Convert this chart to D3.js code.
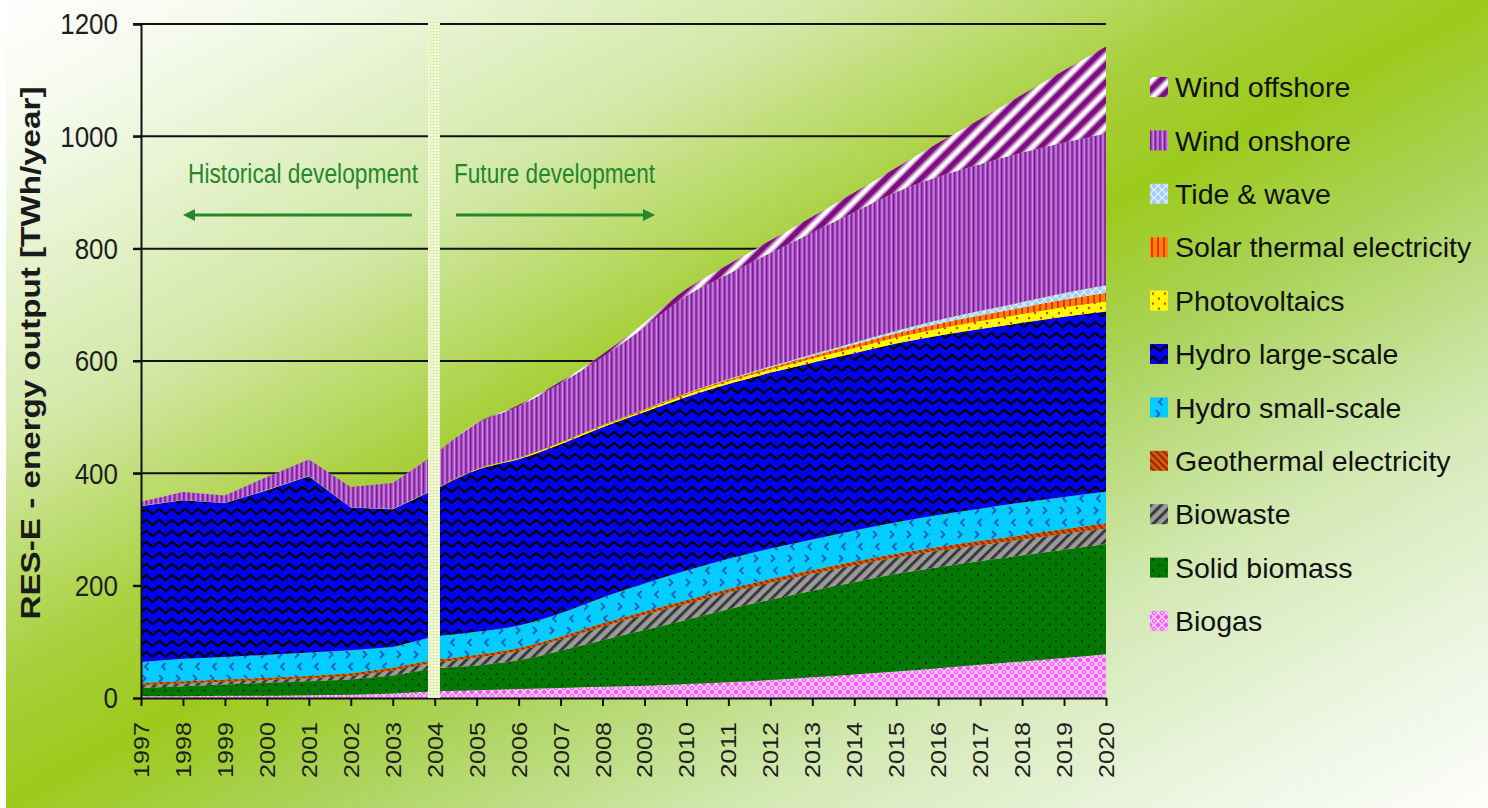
<!DOCTYPE html>
<html><head><meta charset="utf-8">
<script src="https://cdn.jsdelivr.net/npm/d3@7"></script>
<style>html,body{margin:0;padding:0;background:#fff;} svg{display:block;} text{font-family:"Liberation Sans",Arial,sans-serif;}</style>
</head><body>
<svg id="chart" width="1488" height="808"></svg>
<script>
// ---- data (TWh/year) ----
const years = d3.range(1997, 2021);
const biogas        = [3,3,4,4,5,6,8,12,14,16,18,20,22,25,28,32,37,42,47,53,59,65,71,78];
const solidBiomass  = [15,18,20,23,25,27,32,41,44,51,66,83,99,114,130,143,154,164,174,180,185,189,193,196];
const biowaste      = [5,5,5,5,5,6,9,10,14,17,20,24,27,29,30,30,30,30,29,29,28,28,28,28];
const geothermal    = [4,4,4,4,4,5,5,5,5,5,5,6,6,6,6,7,7,7,7,7,8,8,9,9];
const hydroSmall    = [37,40,40,41,42,41,37,42,41,40,42,46,50,53,54,54,54,55,56,57,57,58,57,56];
const hydroLarge    = [278,282,274,293,314,254,245,261,288,296,301,303,305,309,311,313,315,316,318,319,320,320,321,321];
const photovoltaics = [0.1,0.1,0.1,0.1,0.2,0.3,0.4,0.5,1,1.5,2,2.5,3,4,5,6,7.5,9,11,12.5,14,15.5,17,18];
const solarThermal  = [0,0,0,0,0,0,0,0,0.2,0.5,0.8,1,1.5,2,2.5,3.5,4.5,6,7,8.5,10,11.5,13,15];
const tideWave      = [0.5,0.5,0.5,0.5,0.5,0.5,0.5,0.5,0.5,0.5,0.5,0.6,0.8,1,1.5,2,3,4,5,7,8.5,10,12,14];
const windOnshore   = [7,14,13,23,29,36,46,61,81,92,105,121,146,173,187,202,217,232,247,255,261,266,268,270];
const windOffshore  = [0,0,0,0,0,0,0,0.5,1,2,3,5,8,12,17,22,28,35,43,60,80,103,128,155];

const seriesKeys  = ["biogas","solidBiomass","biowaste","geothermal","hydroSmall","hydroLarge","photovoltaics","solarThermal","tideWave","windOnshore","windOffshore"];
const seriesNames = ["Biogas","Solid biomass","Biowaste","Geothermal electricity","Hydro small-scale","Hydro large-scale","Photovoltaics","Solar thermal electricity","Tide & wave","Wind onshore","Wind offshore"];
const yTicks = [0,200,400,600,800,1000,1200];
const historicalEnd = 2004;
const yTitle = "RES-E - energy output [TWh/year]";
const histLabel = "Historical development";
const futLabel = "Future development";

const seriesData = {biogas, solidBiomass, biowaste, geothermal, hydroSmall, hydroLarge, photovoltaics, solarThermal, tideWave, windOnshore, windOffshore};
const table = years.map((yr,i) => { const o = {year: yr}; seriesKeys.forEach(k => o[k] = seriesData[k][i]); return o; });

// ---- layout ----
const svg = d3.select("#chart");
const x = d3.scaleLinear().domain([1997, 2020]).range([141, 1106]);
const y = d3.scaleLinear().domain([0, 1200]).range([698, 24]);

const defs = svg.append("defs");
// background gradient
const bg = defs.append("linearGradient").attr("id","bg").attr("x1",0).attr("y1",0).attr("x2",1).attr("y2",1);
[[0,"#ffffff"],[0.1,"#f3f9e8"],[0.28,"#d2e8a6"],[0.42,"#a8d03c"],[0.5,"#9cca1c"],[0.6,"#abd35a"],[0.75,"#d3e9b4"],[0.9,"#eef6e4"],[1,"#fdfefb"]]
  .forEach(([o,c]) => bg.append("stop").attr("offset",o).attr("stop-color",c));

function pat(id, w, h, bgc, tr) {
  const p = defs.append("pattern").attr("id",id).attr("patternUnits","userSpaceOnUse").attr("width",w).attr("height",h);
  if (tr) p.attr("patternTransform", tr);
  p.append("rect").attr("width",w).attr("height",h).attr("fill",bgc);
  return p;
}
// wind offshore: white with purple diagonal stripes
let p = pat("p_windOffshore", 12.5, 10, "#ffffff", "rotate(45)");
p.append("rect").attr("x",0).attr("width",5.5).attr("height",10).attr("fill","#7d0e80");
p.append("rect").attr("x",5.5).attr("width",1.6).attr("height",10).attr("fill","#c488cc");
p.append("rect").attr("x",10.9).attr("width",1.6).attr("height",10).attr("fill","#c488cc");
// wind onshore: purple vertical stripes
p = pat("p_windOnshore", 4.7, 10, "#a447c3");
p.append("rect").attr("x",0).attr("width",1.2).attr("height",10).attr("fill","#7c168f");
p.append("rect").attr("x",2.6).attr("width",0.9).attr("height",10).attr("fill","#dcb2ea");
// tide & wave
p = pat("p_tideWave", 8, 8, "#a4cbf6");
p.append("path").attr("d","M0,0L8,8M8,0L0,8").attr("stroke","#e8f2ff").attr("stroke-width",1.2);
// solar thermal
p = pat("p_solarThermal", 6, 6, "#ff8400");
p.append("rect").attr("x",1).attr("width",2).attr("height",6).attr("fill","#ff2a00");
// photovoltaics
p = pat("p_photovoltaics", 12, 10, "#ffff00");
p.append("circle").attr("cx",3).attr("cy",3).attr("r",1.2).attr("fill","#ff3000");
p.append("circle").attr("cx",9).attr("cy",8).attr("r",1.2).attr("fill","#ff3000");
// hydro large: blue with black zigzags
p = pat("p_hydroLarge", 13, 11, "#0000f2");
p.append("path").attr("d","M-3.25,8L3.25,2.8L9.75,8L16.25,2.8").attr("stroke","#000").attr("stroke-width",2.2).attr("fill","none");
// hydro small: cyan with chevrons
p = pat("p_hydroSmall", 17, 24, "#00ccff");
p.append("path").attr("d","M6,3L9.5,6.5L6,10").attr("stroke","#1f5fbf").attr("stroke-width",1.9).attr("fill","none");
p.append("path").attr("d","M12.5,15L9,18.5L12.5,22").attr("stroke","#1f5fbf").attr("stroke-width",1.9).attr("fill","none");
// geothermal
p = pat("p_geothermal", 5, 5, "#d85a08", "rotate(-45)");
p.append("rect").attr("x",0).attr("width",2).attr("height",5).attr("fill","#8e2c00");
// biowaste: grey with dark diagonal stripes
p = pat("p_biowaste", 7.5, 10, "#9a9a9a", "rotate(45)");
p.append("rect").attr("x",0).attr("width",3).attr("height",10).attr("fill","#3a3a3a");
// solid biomass: green with black dots
p = pat("p_solidBiomass", 13, 11, "#017801");
p.append("circle").attr("cx",3).attr("cy",3).attr("r",1).attr("fill","#002200");
p.append("circle").attr("cx",9.5).attr("cy",8.5).attr("r",1).attr("fill","#002200");
// biogas: magenta lattice
p = pat("p_biogas", 8, 8, "#ff55ff");
p.append("path").attr("d","M0,0L8,8M8,0L0,8").attr("stroke","#ffd8ff").attr("stroke-width",1.5);
p.append("circle").attr("cx",4).attr("cy",0).attr("r",0.9).attr("fill","#fff");
p.append("circle").attr("cx",4).attr("cy",8).attr("r",0.9).attr("fill","#fff");
// divider band
p = pat("p_divider", 3, 3, "#eef7cf");
p.append("rect").attr("x",1).attr("y",1).attr("width",1).attr("height",1).attr("fill","#c3df86");

// background
svg.append("rect").attr("width",1488).attr("height",808).attr("fill","url(#bg)");
svg.append("rect").attr("width",6).attr("height",808).attr("fill","#ffffff");

// gridlines
svg.append("g").selectAll("line").data(yTicks.filter(v => v > 0)).join("line")
  .attr("x1", 133).attr("x2", x(2020)).attr("y1", d => y(d)).attr("y2", d => y(d))
  .attr("stroke","#111").attr("stroke-width",2);

// stacked areas
const stack = d3.stack().keys(seriesKeys);
const stacked = stack(table);
const areaHist = d3.area().x(d => x(d.data.year)).y0(d => y(d[0])).y1(d => y(d[1])).curve(d3.curveLinear);
const areaFut = d3.area().x(d => x(d.data.year)).y0(d => y(d[0])).y1(d => y(d[1])).curve(d3.curveMonotoneX);
const gA = svg.append("g");
stacked.forEach(s => {
  gA.append("path").attr("d", areaHist(s.filter(d => d.data.year <= historicalEnd))).attr("fill", `url(#p_${s.key})`);
  gA.append("path").attr("d", areaFut(s.filter(d => d.data.year >= historicalEnd))).attr("fill", `url(#p_${s.key})`);
});

// axes
const yAxis = svg.append("g").attr("transform","translate(141,0)")
  .call(d3.axisLeft(y).tickValues(yTicks).tickSize(8).tickFormat(""));
yAxis.select(".domain").attr("stroke","#111").attr("stroke-width",2);
yAxis.selectAll(".tick line").attr("stroke","#111").attr("stroke-width",2);
const xAxis = svg.append("g").attr("transform","translate(0,698)")
  .call(d3.axisBottom(x).tickValues(years).tickSize(8).tickSizeOuter(0).tickFormat(""));
xAxis.select(".domain").attr("stroke","#111").attr("stroke-width",2);
xAxis.selectAll(".tick line").attr("stroke","#111").attr("stroke-width",2);

// divider band
svg.append("rect").attr("x",428).attr("y",22).attr("width",12).attr("height",676).attr("fill","url(#p_divider)");

// y tick labels
svg.append("g").selectAll("g").data(yTicks).join("g")
  .attr("transform", d => `translate(118,${y(d)})`)
  .append("text").attr("transform","scale(1,1.12)").attr("dy","0.36em").attr("text-anchor","end")
  .attr("font-size",26).attr("fill","#1e1e1e").text(d => d);

// x tick labels
svg.append("g").selectAll("text").data(years).join("text")
  .attr("transform", d => `translate(${x(d)+8},722) rotate(-90)`)
  .attr("text-anchor","end").attr("font-size",22).attr("fill","#1e1e1e")
  .attr("textLength",56).attr("lengthAdjust","spacingAndGlyphs").text(d => d);

// y title
svg.append("text").attr("transform","translate(40,353) rotate(-90)").attr("text-anchor","middle")
  .attr("font-size",28).attr("font-weight","bold").attr("fill","#1a1a1a")
  .attr("textLength",533).attr("lengthAdjust","spacingAndGlyphs").text(yTitle);

// annotations
const green = "#22882a";
svg.append("text").attr("x",188).attr("y",183).attr("font-size",27).attr("fill",green)
  .attr("textLength",230).attr("lengthAdjust","spacingAndGlyphs").text(histLabel);
svg.append("text").attr("x",454).attr("y",183).attr("font-size",27).attr("fill",green)
  .attr("textLength",201).attr("lengthAdjust","spacingAndGlyphs").text(futLabel);
svg.append("line").attr("x1",412).attr("x2",192).attr("y1",215).attr("y2",215).attr("stroke",green).attr("stroke-width",3);
svg.append("path").attr("d","M183,215L195,209L195,221Z").attr("fill",green);
svg.append("line").attr("x1",456).attr("x2",646).attr("y1",215).attr("y2",215).attr("stroke",green).attr("stroke-width",3);
svg.append("path").attr("d","M655,215L643,209L643,221Z").attr("fill",green);

// legend (top to bottom: reverse of stack order)
const legendOrder = seriesKeys.map((k,i) => ({key:k, name:seriesNames[i]})).reverse();
const lg = svg.append("g").selectAll("g").data(legendOrder).join("g")
  .attr("transform", (d,i) => `translate(1150,${87 + i*53.4})`);
lg.append("rect").attr("x",0).attr("y",-10).attr("width",18).attr("height",20).attr("fill", d => `url(#p_${d.key})`);
lg.append("text").attr("x",25).attr("y",0).append("tspan").attr("dy","0.36em")
  .attr("font-size",28.5).attr("fill","#111").text(d => d.name);
</script>
</body></html>
